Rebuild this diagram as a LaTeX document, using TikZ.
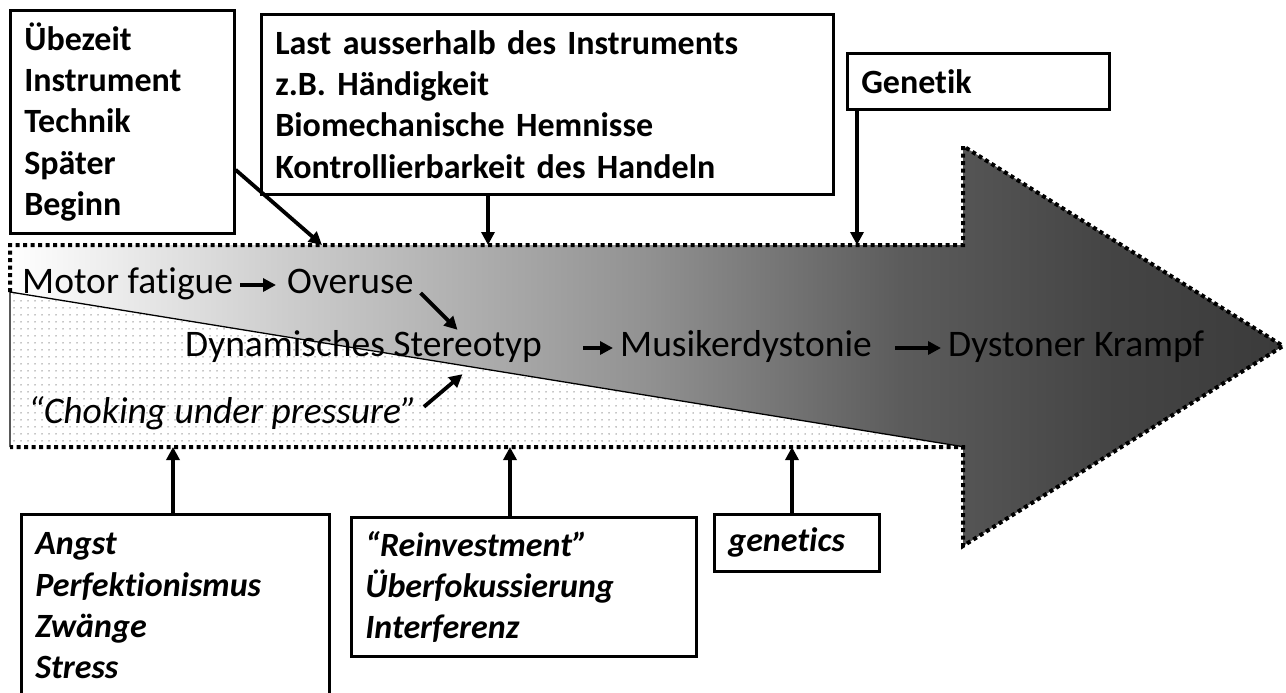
\documentclass[tikz,border=0pt]{standalone}
\usepackage{fontspec}
\setmainfont{Carlito}[Ligatures={TeX,NoCommon}]
\usepackage{tikz}
\usetikzlibrary{arrows.meta,patterns}
\pgfdeclarepatternformonly{sparsedots}{\pgfpoint{-1pt}{-1pt}}{\pgfpoint{1pt}{1pt}}{\pgfpoint{7pt}{7pt}}{\pgfpathcircle{\pgfpointorigin}{0.75pt}\pgfusepath{fill}}
\pgfdeclarehorizontalshading{bodyshade}{100bp}{color(0bp)=(white); color(25bp)=(white); color(36bp)=(black!20); color(50bp)=(black!43); color(60bp)=(black!64); color(68bp)=(black!73); color(75bp)=(black!77); color(100bp)=(black!77)}
\tikzset{
  infobox/.style={draw, line width=2.6pt, anchor=north west, align=left, inner xsep=14pt, inner ysep=0pt, font=\fontsize{34}{41.3}\selectfont\bfseries},
  italbox/.style={infobox, font=\fontsize{34}{41.3}\selectfont\bfseries\itshape},
  flowtxt/.style={inner xsep=7pt, inner ysep=0pt, text height=26pt, text depth=10pt, anchor=base west, font=\fontsize{37.5}{45}\selectfont},
  fatarrow/.style={line width=3.8pt, -{Triangle[length=13pt,width=13pt]}},
  rim/.style={line width=4pt, dash pattern=on 4pt off 3.5pt}
}
\frenchspacing

\begin{document}
\begin{tikzpicture}[x=1pt,y=-1pt]
     \useasboundingbox (0,0) rectangle (1286,693);
     \shade[shading=bodyshade] (10,245) -- (963,245) -- (963,146) -- (1283,346) -- (963,546) -- (963,447) -- (10,447) -- cycle;
     \fill[white] (10,292) -- (965,447) -- (10,447) -- cycle;
     \fill[pattern=sparsedots, pattern color=black!45] (10,292) -- (965,447) -- (10,447) -- cycle;
     \draw[line width=1.3pt] (965,447) -- (10,292) -- (10,447);
     \draw[rim] (10,292) -- (10,245) -- (963,245) -- (963,146) -- (1283,346) -- (963,546) -- (963,447) -- (10,447);
     \coordinate (t1) at (322,245);
     \coordinate (t2) at (488,245);
     \coordinate (t3) at (857,245);
     \coordinate (b1) at (173,447);
     \coordinate (b2) at (510,447);
     \coordinate (b3) at (792,447);
     \node[infobox, text width=196pt, minimum height=223pt] (box1) at (9,9) {Übezeit\\Instrument\\Technik\\Später\\Beginn};
     \node[infobox, text width=544pt, minimum height=180pt] (box2) at (260,13) {Last ausserhalb des Instruments\\z.B. Händigkeit\\Biomechanische Hemnisse\\Kontrollierbarkeit des Handeln};
     \node[infobox, text width=234pt, minimum height=56pt] (genetik) at (846,52) {Genetik};
     \node[italbox, text width=280pt, minimum height=183pt] (angst) at (20,513) {Angst\\Perfektionismus\\Zwänge\\Stress};
     \node[italbox, text width=317pt, minimum height=139pt] (reinvest) at (350,516) {“Reinvestment”\\Überfokussierung\\Interferenz};
     \node[italbox, text width=137pt, minimum height=57pt] (genetics) at (713,513) {genetics};
     \node[flowtxt] (motor) at (15,293) {Motor fatigue};
     \node[flowtxt] (overuse) at (280,293) {Overuse};
     \node[flowtxt] (dynster) at (178,356) {Dynamisches Stereotyp};
     \node[flowtxt] (musik) at (613,356) {Musikerdystonie};
     \node[flowtxt] (krampf) at (941,356) {Dystoner Krampf};
     \node[flowtxt, font=\fontsize{37.5}{45}\selectfont\itshape] (choking) at (21,423) {“Choking under pressure”};
     \draw[fatarrow, shorten >=4pt] (motor.east) -- (overuse.west);
     \draw[fatarrow] (overuse.base east) -- ([xshift=94pt]dynster.north);
     \draw[fatarrow, shorten <=34pt] (dynster.east) -- (musik.west);
     \draw[fatarrow, shorten <=16pt] (musik.east) -- (krampf.west);
     \draw[fatarrow] ([yshift=-10pt]choking.north east) -- ([xshift=99pt,yshift=-8pt]dynster.south);
     \draw[fatarrow] ([yshift=-48pt]box1.east) -- (t1);
     \draw[fatarrow] (box2.south -| t2) -- (t2);
     \draw[fatarrow] (genetik.south -| t3) -- (t3);
     \draw[fatarrow] (angst.north -| b1) -- (b1);
     \draw[fatarrow] (reinvest.north -| b2) -- (b2);
     \draw[fatarrow] (genetics.north -| b3) -- (b3);
\end{tikzpicture}
\end{document}
